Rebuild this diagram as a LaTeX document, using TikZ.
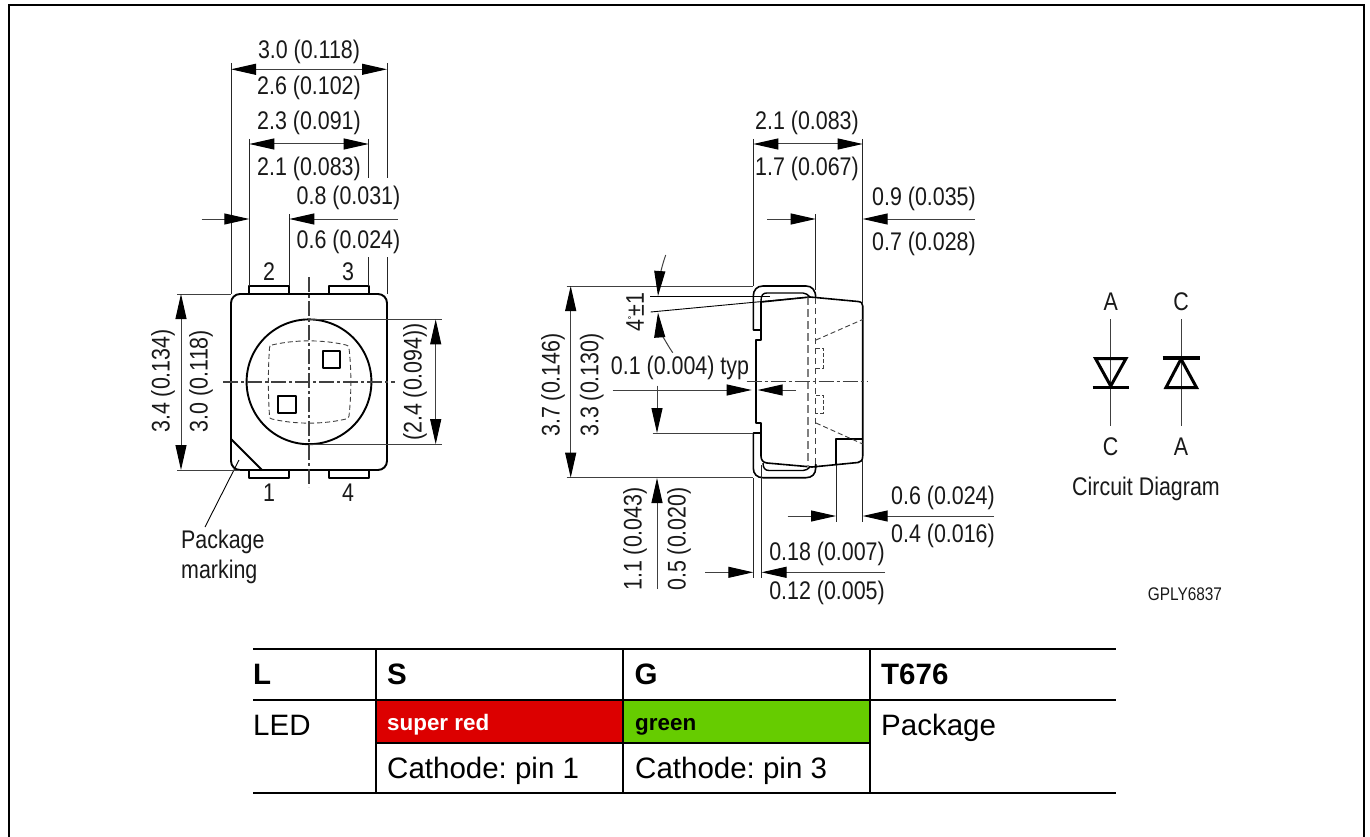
\documentclass[tikz,border=0pt]{standalone}
\usepackage{fontspec}
\setmainfont{Liberation Sans}
\newfontfamily\dimfont[FakeStretch=0.84]{Liberation Sans}
\usetikzlibrary{arrows.meta}
\definecolor{dimgrey}{gray}{0.25}
\definecolor{redcell}{HTML}{DC0000}
\definecolor{greencell}{HTML}{66CC00}
\frenchspacing
\tikzset{
  x=1pt,y=-1pt,
  dimtxt/.style={font=\dimfont\fontsize{25.5}{28}\selectfont,inner sep=0pt,text=black!90},
  smalltxt/.style={font=\dimfont\fontsize{18.3}{20}\selectfont,inner sep=0pt,text=black!90},
  vtxt/.style={dimtxt,rotate=90},
  tabtxt/.style={font=\fontsize{29.5}{32}\selectfont,inner sep=0pt,anchor=base west},
  tabbold/.style={font=\bfseries\fontsize{29.5}{32}\selectfont,inner sep=0pt,anchor=base west},
  cellbold/.style={font=\bfseries\fontsize{22.4}{24}\selectfont,inner sep=0pt,anchor=base west},
  thin line/.style={line width=0.9pt,draw=dimgrey},
  ext/.style={line width=1pt,draw=black!85},
  outline/.style={line width=1.9pt,draw=black,line join=round},
  dimarrow/.style={line width=1pt,draw=dimgrey,{Triangle[length=25pt,width=11pt,color=black]}-{Triangle[length=25pt,width=11pt,color=black]}},
  toarrow/.style={line width=1pt,draw=dimgrey,-{Triangle[length=25pt,width=11pt,color=black]}},
  centre/.style={line width=1.2pt,draw=black!75,dash pattern=on 15pt off 3pt on 3pt off 3pt},
  hidden/.style={line width=0.9pt,draw=black!75,dash pattern=on 5pt off 3pt},
  tabline/.style={line width=2pt,draw=black},
}
\begin{document}
\begin{tikzpicture}
\useasboundingbox (0,0) rectangle (1370,837);
\fill[white] (0,0) rectangle (1370,837);
% frame
\draw[line width=2pt] (9.3,840) -- (9.3,5.5) -- (1364,5.5) -- (1364,840);

% ---------- front view
\draw[outline] (249.3,294) -- (249.3,286) -- (289.3,286) -- (289.3,294);
\draw[outline] (328.7,294) -- (328.7,286) -- (368.7,286) -- (368.7,294);
\draw[outline] (249.3,470) -- (249.3,478) -- (289.3,478) -- (289.3,470);
\draw[outline] (328.7,470) -- (328.7,478) -- (368.7,478) -- (368.7,470);
\draw[outline,fill=white,rounded corners=9pt] (231,294) rectangle (387,470);
\draw[outline] (231,439) -- (262,470);
\draw[outline] (309,381.8) circle (62.4);
\draw[hidden] (272,345) .. controls (295,339.5) and (323,339.5) .. (346,345)
  .. controls (348,345.5) and (348.5,346) .. (349,348)
  .. controls (351.5,370) and (351.5,393) .. (349,416)
  .. controls (348.5,418) and (348,418.5) .. (346,419)
  .. controls (323,424.5) and (295,424.5) .. (272,419)
  .. controls (270,418.5) and (269.5,418) .. (269.5,416)
  .. controls (268,393) and (268,370) .. (269.5,348)
  .. controls (269.5,346) and (270,345.5) .. (272,345) -- cycle;
\draw[outline] (322.7,351) rectangle (340,368);
\draw[outline] (278.3,396) rectangle (295.7,413);
\draw[centre] (309,277) -- (309,487);
\draw[centre] (223,382) -- (395,382);
\draw[line width=0.9pt] (239,460) -- (205,527);

% extension lines, front view
\draw[ext] (231,63) -- (231,294);
\draw[ext] (387,63) -- (387,178);
\draw[ext] (387,257) -- (387,294);
\draw[ext] (249.3,139) -- (249.3,286);
\draw[ext] (368.7,139) -- (368.7,178);
\draw[ext] (368.7,257) -- (368.7,286);
\draw[ext] (289.3,214) -- (289.3,286);
\draw[thin line] (177,294) -- (231,294);
\draw[thin line] (177,470) -- (240,470);
\draw[thin line] (309,319.4) -- (441.7,319.4);
\draw[thin line] (309,444.2) -- (441.7,444.2);

% dimensions, front view
\draw[dimarrow] (231,69.3) -- (387,69.3);
\draw[dimarrow] (249.3,144) -- (368.7,144);
\draw[toarrow] (201.7,219) -- (249.3,219);
\draw[toarrow] (398,219) -- (289.3,219);
\draw[dimarrow] (181,294) -- (181,470);
\draw[dimarrow] (435.7,319.4) -- (435.7,444.2);

\node[dimtxt] (t30) at (309,51.5) {3.0 (0.118)};
\node[dimtxt] (t26) at (309,87.5) {2.6 (0.102)};
\node[dimtxt] (t23) at (309,122.5) {2.3 (0.091)};
\node[dimtxt] (t21) at (309,168.5) {2.1 (0.083)};
\node[dimtxt] (t08) at (348.5,198) {0.8 (0.031)};
\node[dimtxt] (t06) at (348.5,241.5) {0.6 (0.024)};
\node[dimtxt] (p2) at (269,272) {2};
\node[dimtxt] (p3) at (348,272) {3};
\node[dimtxt] (p1) at (269,493) {1};
\node[dimtxt] (p4) at (348,493) {4};
\node[vtxt] (t34) at (163,381) {3.4 (0.134)};
\node[vtxt] (t30b) at (201,381) {3.0 (0.118)};
\node[vtxt] (t24) at (415,382) {(2.4 (0.094))};
\node[dimtxt,anchor=west] (pk1) at (181,541.5) {Package};
\node[dimtxt,anchor=west] (pk2) at (181,572) {marking};

% ---------- side view
\draw[outline,line width=1.6pt] (761,302) -- (810,297) -- (858,301.5)
   .. controls (861.5,302) and (862.7,303) .. (862.7,306)
   -- (862.7,456) .. controls (862.7,460.5) and (861,462) .. (858,462.5)
   -- (812,467) -- (767,463) .. controls (763,462.5) and (761,460) .. (761,456)
   -- (761,433) -- (753.3,433) -- (753.3,468)
   .. controls (753.3,474) and (757,477.7) .. (763,477.7)
   -- (806,477.7) .. controls (812,477.7) and (815.7,474) .. (815.7,468) -- (815.7,464);
\draw[outline,line width=1.6pt] (761,302) -- (761,340) -- (755.7,340) -- (755.7,423) -- (761,423) -- (761,433);
\draw[outline,line width=1.6pt] (761,330) -- (753.3,330) -- (753.3,296)
   .. controls (753.3,290) and (757,286) .. (763,286)
   -- (806,286) .. controls (812,286) and (815.7,290) .. (815.7,298);
\draw[outline,line width=1.4pt] (761,301) .. controls (761,295) and (763,293) .. (767,293)
   -- (803,293) .. controls (806,293) and (808,295) .. (810,297);
\draw[outline,line width=1.4pt] (763,463) .. controls (763,468) and (765,470.5) .. (769,470.5)
   -- (803,470.5) .. controls (806,470.5) and (808,469) .. (810,467);
\draw[outline,line width=1.6pt] (836,465) -- (836,439) -- (862.7,439);
\draw[line width=1.8pt,draw=black!50,dash pattern=on 8pt off 4pt] (807.7,297) -- (807.7,467);
\draw[hidden,line width=1.1pt,dash pattern=on 6pt off 4pt] (815.7,298) -- (815.7,464);
\draw[hidden] (816,340) -- (862.7,319.5);
\draw[hidden] (816,423) -- (862.7,444);
\draw[hidden,line width=0.8pt,dash pattern=on 4pt off 2pt] (816,348) -- (823,348) -- (823,368) -- (816,368);
\draw[hidden,line width=0.8pt,dash pattern=on 4pt off 2pt] (816,395) -- (823,395) -- (823,413) -- (816,413);
\draw[centre] (746.7,381.7) -- (868,381.7);

% extension lines, side view
\draw[ext] (753.3,139) -- (753.3,286);
\draw[ext] (862.7,139) -- (862.7,303);
\draw[ext] (815.7,214) -- (815.7,290);
\draw[ext] (753.3,478) -- (753.3,578);
\draw[ext] (761.5,465) -- (761.5,578);
\draw[ext] (836,465) -- (836,522);
\draw[ext] (862.7,460) -- (862.7,522);
\draw[thin line] (566.7,286) -- (753.3,286);
\draw[thin line] (566.7,477.7) -- (753.3,477.7);
\draw[thin line] (652.7,433) -- (753.3,433);
\draw[line width=0.9pt] (650,296) -- (770,296);
\draw[line width=0.9pt] (650.7,312) -- (810,297);

% dimensions, side view
\draw[dimarrow] (753.3,144) -- (862.7,144);
\draw[toarrow] (767,219) -- (815.7,219);
\draw[toarrow] (975,219) -- (862.7,219);
\draw[dimarrow] (570.7,286) -- (570.7,477.7);
\draw[toarrow] (612.7,390) -- (751.7,390);
\draw[toarrow] (796,390) -- (757.7,390);
\draw[toarrow] (657,385.7) -- (657,433);
\draw[toarrow] (657,589) -- (657,478);
\draw[toarrow] (787.7,516) -- (836,516);
\draw[toarrow] (994,516) -- (862.7,516);
\draw[toarrow] (705,572.3) -- (753.3,572.3);
\draw[toarrow] (885,572.3) -- (761.5,572.3);
\draw[toarrow] (665.7,255) .. controls (661,268) and (659,282) .. (658,296);
\draw[toarrow] (672.7,352.7) .. controls (664,340) and (659,327) .. (658,312.5);

\node[dimtxt] (s21) at (807,122.5) {2.1 (0.083)};
\node[dimtxt] (s17) at (807,168.5) {1.7 (0.067)};
\node[dimtxt] (s09) at (924,198.5) {0.9 (0.035)};
\node[dimtxt] (s07) at (924,243.5) {0.7 (0.028)};
\node[vtxt] (s37) at (553,385) {3.7 (0.146)};
\node[vtxt] (s33) at (591.7,385) {3.3 (0.130)};
\node[vtxt] (sa) at (635,312) {4{\raisebox{6pt}{\fontsize{12}{12}\selectfont\char"02DA}}±1};
\node[dimtxt] (s01) at (680,367.5) {0.1 (0.004) typ};
\node[vtxt] (s11) at (635,539) {1.1 (0.043)};
\node[vtxt] (s05) at (679,539) {0.5 (0.020)};
\node[dimtxt] (s06) at (943,497.5) {0.6 (0.024)};
\node[dimtxt] (s04) at (943,535.5) {0.4 (0.016)};
\node[dimtxt] (s18) at (827,553.5) {0.18 (0.007)};
\node[dimtxt] (s12) at (827,592.5) {0.12 (0.005)};

% ---------- circuit diagram
\draw[thin line] (1110.7,319) -- (1110.7,426);
\draw[thin line] (1181,319) -- (1181,426);
\draw[line width=3pt,line join=miter] (1095.5,358.5) -- (1126,358.5) -- (1110.7,386) -- cycle;
\draw[line width=3.4pt] (1092.7,387.7) -- (1129,387.7);
\draw[line width=3pt,line join=miter] (1166,387.5) -- (1196.5,387.5) -- (1181,359) -- cycle;
\draw[line width=3.4pt] (1162.7,358) -- (1200,358);
\node[dimtxt] (ca1) at (1110.7,301.5) {A};
\node[dimtxt] (cc1) at (1181,301.5) {C};
\node[dimtxt] (cc2) at (1110.7,446.5) {C};
\node[dimtxt] (ca2) at (1181,446.5) {A};
\node[dimtxt] (cd) at (1146,488.5) {Circuit Diagram};
\node[smalltxt] (gply) at (1185,594) {GPLY6837};

% ---------- table
\fill[redcell] (376,700) rectangle (622.7,743);
\fill[greencell] (622.7,700) rectangle (870,743);
\draw[tabline] (253,649) -- (1116,649);
\draw[tabline] (253,700) -- (1116,700);
\draw[tabline] (376,743) -- (870,743);
\draw[tabline] (253,793) -- (1116,793);
\draw[tabline] (376,649) -- (376,793);
\draw[tabline] (622.7,649) -- (622.7,793);
\draw[tabline] (870,649) -- (870,793);
\node[tabbold] (hl) at (253,684.5) {L};
\node[tabbold] (hs) at (387,684.5) {S};
\node[tabbold] (hg) at (634.5,684.5) {G};
\node[tabbold] (ht) at (881,684.5) {T676};
\node[tabtxt] (led) at (253,735) {LED};
\node[tabtxt] (pkg) at (881,735) {Package};
\node[cellbold,text=white] (sr) at (387,730.5) {super red};
\node[cellbold,text=black] (gr) at (635,730.5) {green};
\node[tabtxt] (c1) at (387,778) {Cathode: pin 1};
\node[tabtxt] (c3) at (635,778) {Cathode: pin 3};
\end{tikzpicture}
\end{document}
